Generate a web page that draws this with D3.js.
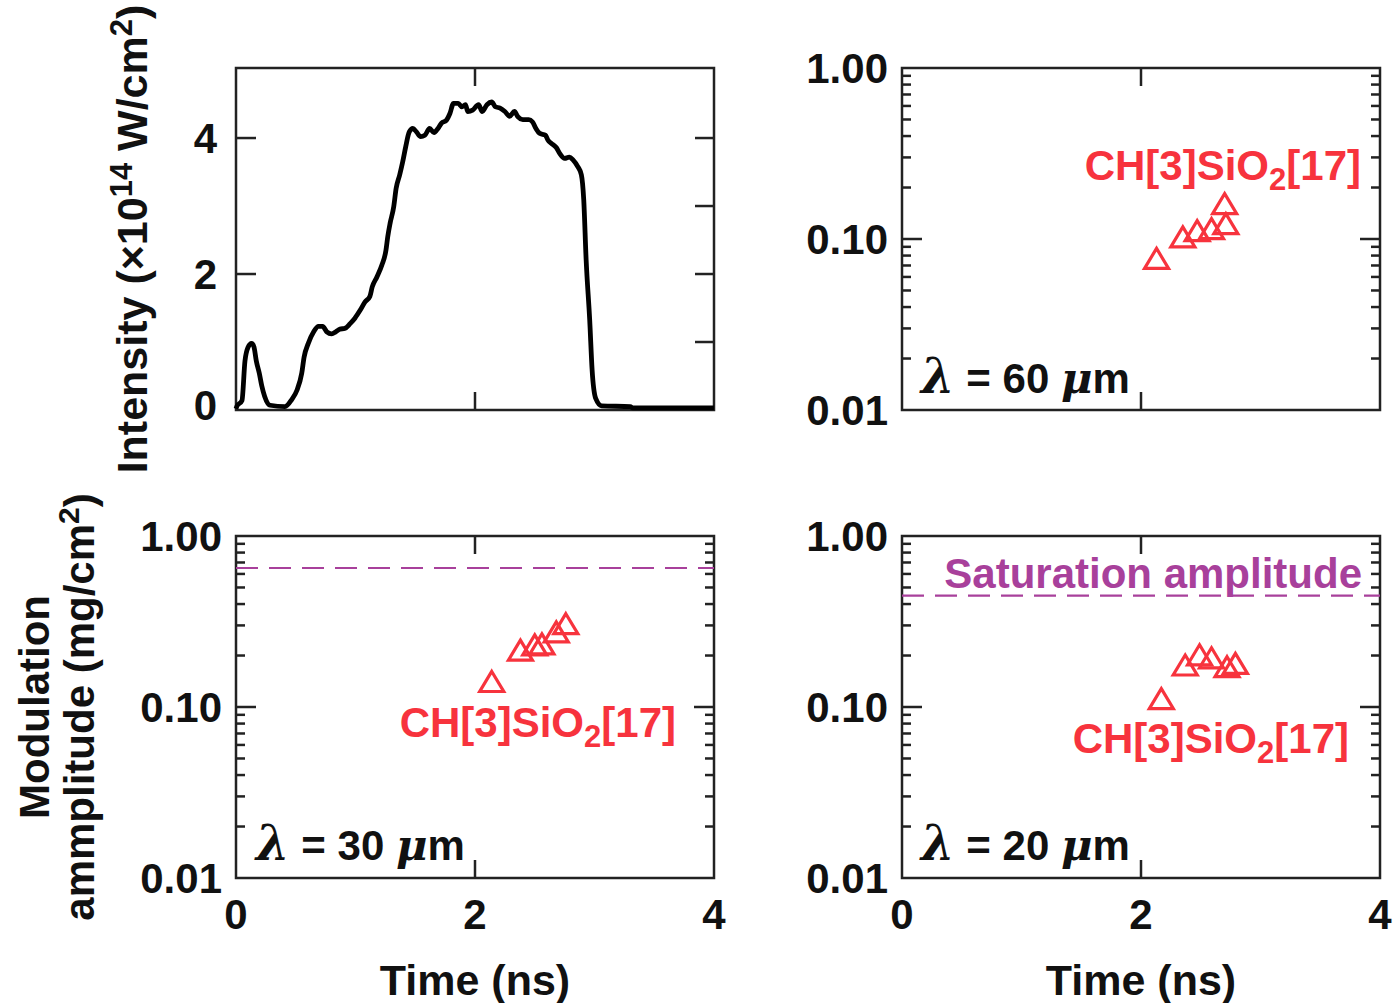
<!DOCTYPE html>
<html><head><meta charset="utf-8">
<script src="https://cdn.jsdelivr.net/npm/d3@7"></script>
<style>body{margin:0;background:#fff} svg{display:block}</style>
</head><body><svg id="c" width="1393" height="1003"></svg>
<script>
// ---- data ----
const pulseTime = [0.0,0.006,0.05,0.075,0.10,0.13,0.15,0.17,0.195,0.215,0.24,0.285,0.41,0.465,0.51,0.55,0.57,0.605,0.65,0.69,0.725,0.76,0.80,0.835,0.87,0.91,0.955,0.995,1.04,1.08,1.12,1.14,1.18,1.22,1.255,1.27,1.29,1.32,1.34,1.37,1.395,1.42,1.45,1.48,1.51,1.545,1.58,1.62,1.657,1.69,1.72,1.76,1.79,1.82,1.86,1.89,1.92,1.94,1.98,2.03,2.06,2.10,2.14,2.17,2.21,2.25,2.29,2.33,2.36,2.40,2.45,2.48,2.51,2.54,2.59,2.61,2.64,2.68,2.71,2.75,2.79,2.82,2.86,2.89,2.91,2.93,2.96,2.98,3.01,3.06,3.30,3.32,4.0];
const pulseIntensity = [0.02,0.05,0.14,0.72,0.92,0.98,0.93,0.72,0.54,0.36,0.2,0.07,0.05,0.15,0.29,0.54,0.78,0.98,1.15,1.23,1.23,1.15,1.12,1.15,1.19,1.20,1.27,1.35,1.47,1.59,1.67,1.81,1.96,2.13,2.35,2.55,2.75,2.99,3.26,3.46,3.65,3.87,4.09,4.14,4.09,4.02,4.04,4.14,4.08,4.14,4.22,4.26,4.36,4.51,4.51,4.46,4.49,4.39,4.41,4.49,4.39,4.49,4.53,4.46,4.44,4.39,4.32,4.39,4.31,4.27,4.27,4.24,4.14,4.07,4.04,3.97,3.92,3.86,3.77,3.70,3.72,3.68,3.58,3.46,3.09,2.21,1.32,0.59,0.17,0.06,0.05,0.03,0.03];

const time60 = [2.13, 2.35, 2.47, 2.59, 2.70, 2.71];
const amp60  = [0.077, 0.103, 0.112, 0.115, 0.161, 0.123];
const time30 = [2.14, 2.38, 2.50, 2.56, 2.68, 2.76];
const amp30  = [0.141, 0.215, 0.231, 0.234, 0.275, 0.307];
const time20 = [2.17, 2.37, 2.49, 2.59, 2.72, 2.79];
const amp20  = [0.112, 0.176, 0.202, 0.194, 0.172, 0.180];
const saturation30 = 0.65;
const saturation20 = 0.448;

const xTicks = [0, 2, 4];
const intensityTickLabels = [0, 2, 4];
const intensityTicksLeft = [2, 4];
const intensityTicksRight = [1, 2, 3, 4];
const logTicks = [0.01, 0.1, 1];
const logTickLabels = ["0.01", "0.10", "1.00"];

// ---- drawing ----
const svg = d3.select("#c");
const FONT = "'Liberation Sans', Arial, Helvetica, sans-serif";
const SERIF = "'DejaVu Serif', 'Liberation Serif', serif";
const FRAME = "#222";
const RED = "#f7333d";
const PURPLE = "#a8409b";
const FS = 42;

const panels = {
  tl: {x0: 236, x1: 714, y0: 68, y1: 410},
  tr: {x0: 902, x1: 1380, y0: 68, y1: 410},
  bl: {x0: 236, x1: 714, y0: 536, y1: 878},
  br: {x0: 902, x1: 1380, y0: 536, y1: 878}
};

function xScaleFor(p) { return d3.scaleLinear().domain([0, 4]).range([p.x0, p.x1]); }
function logScaleFor(p) { return d3.scaleLog().domain([0.01, 1]).range([p.y1, p.y0]); }

function tickLine(x1, y1, x2, y2) {
  svg.append("line").attr("x1", x1).attr("y1", y1).attr("x2", x2).attr("y2", y2)
    .attr("stroke", FRAME).attr("stroke-width", 2.5);
}

function frame(p) {
  svg.append("rect").attr("x", p.x0).attr("y", p.y0)
    .attr("width", p.x1 - p.x0).attr("height", p.y1 - p.y0)
    .attr("fill", "none").attr("stroke", FRAME).attr("stroke-width", 2.5);
}

function xAxisTicks(p, x, labels) {
  xTicks.forEach(t => {
    const px = x(t);
    if (t > 0 && t < 4) {
      tickLine(px, p.y1, px, p.y1 - 18);
      tickLine(px, p.y0, px, p.y0 + 18);
    }
    if (labels) {
      svg.append("text").attr("x", px).attr("y", p.y1 + 51)
        .attr("text-anchor", "middle").attr("font-family", FONT)
        .attr("font-weight", "bold").attr("font-size", FS).attr("fill", "#111")
        .text(t);
    }
  });
}

function logAxisTicks(p, y) {
  const minors = [];
  [0.01, 0.1].forEach(d => { for (let k = 2; k <= 9; k++) minors.push(d * k); });
  minors.forEach(v => {
    const py = y(v);
    tickLine(p.x0, py, p.x0 + 9, py);
    tickLine(p.x1, py, p.x1 - 9, py);
  });
  logTicks.forEach((v, i) => {
    const py = y(v);
    if (v > 0.01 && v < 1) {
      tickLine(p.x0, py, p.x0 + 20, py);
      tickLine(p.x1, py, p.x1 - 20, py);
    }
    svg.append("text").attr("x", p.x0 - 14).attr("y", py).attr("dy", "0.36em")
      .attr("text-anchor", "end").attr("font-family", FONT)
      .attr("font-weight", "bold").attr("font-size", FS).attr("fill", "#111")
      .text(logTickLabels[i]);
  });
}

function triangles(x, y, ts, vs) {
  const s = 24, h = 20;
  const path = `M0,${-h/2}L${s/2},${h/2}L${-s/2},${h/2}Z`;
  ts.forEach((t, i) => {
    svg.append("path").attr("d", path)
      .attr("transform", `translate(${x(t)},${y(vs[i])})`)
      .attr("fill", "none").attr("stroke", RED).attr("stroke-width", 3.2)
      .attr("stroke-linejoin", "miter");
  });
}

function chLabel(xEnd, yBase) {
  const t = svg.append("text").attr("x", xEnd).attr("y", yBase)
    .attr("text-anchor", "end").attr("font-family", FONT)
    .attr("font-weight", "bold").attr("font-size", FS).attr("fill", RED);
  t.append("tspan").text("CH[3]SiO");
  t.append("tspan").attr("font-size", 31).attr("dy", 10).text("2");
  t.append("tspan").attr("dy", -10).text("[17]");
}

function lambdaLabel(x0, yBase, val) {
  const t = svg.append("text").attr("x", x0).attr("y", yBase)
    .attr("font-family", FONT).attr("font-weight", "bold")
    .attr("font-size", FS).attr("fill", "#111");
  t.append("tspan").attr("font-family", SERIF)
    .attr("font-style", "italic").attr("font-size", 48).text("λ");
  t.append("tspan").text(" = " + val + " ");
  t.append("tspan").attr("font-family", SERIF)
    .attr("font-style", "italic").attr("font-size", 43).text("μ");
  t.append("tspan").text("m");
}

function satLine(p, y, v) {
  svg.append("line").attr("x1", p.x0).attr("x2", p.x1)
    .attr("y1", y(v)).attr("y2", y(v))
    .attr("stroke", PURPLE).attr("stroke-width", 2.2)
    .attr("stroke-dasharray", "22,11");
}

// Panel TL: pulse shape
{
  const p = panels.tl;
  const x = xScaleFor(p);
  const y = d3.scaleLinear().domain([0, 5.03]).range([p.y1, p.y0]);
  frame(p);
  intensityTicksLeft.forEach(v => tickLine(p.x0, y(v), p.x0 + 20, y(v)));
  intensityTicksRight.forEach(v => tickLine(p.x1, y(v), p.x1 - 19, y(v)));
  xAxisTicks(p, x, false);
  intensityTickLabels.forEach(v => {
    svg.append("text").attr("x", p.x0 - 19).attr("y", y(v) - (v === 0 ? 5 : 0)).attr("dy", "0.36em")
      .attr("text-anchor", "end").attr("font-family", FONT)
      .attr("font-weight", "bold").attr("font-size", FS).attr("fill", "#111").text(v);
  });
  const line = d3.line().x((d, i) => x(pulseTime[i])).y((d, i) => y(pulseIntensity[i]))
    .curve(d3.curveMonotoneX);
  svg.append("path").attr("d", line(pulseTime)).attr("fill", "none")
    .attr("stroke", "#000").attr("stroke-width", 4.8).attr("stroke-linejoin", "round");
  // y title
  const t = svg.append("text").attr("transform", `translate(147,${(p.y0 + p.y1) / 2}) rotate(-90)`)
    .attr("text-anchor", "middle").attr("font-family", FONT).attr("font-weight", "bold")
    .attr("font-size", 43).attr("fill", "#111");
  t.append("tspan").text("Intensity (×10");
  t.append("tspan").attr("font-size", 31).attr("dy", -15).text("14");
  t.append("tspan").attr("dy", 15).text(" W/cm");
  t.append("tspan").attr("font-size", 31).attr("dy", -15).text("2");
  t.append("tspan").attr("dy", 15).text(")");
}

// Panel TR: 60 um
{
  const p = panels.tr;
  const x = xScaleFor(p), y = logScaleFor(p);
  frame(p);
  logAxisTicks(p, y);
  xAxisTicks(p, x, false);
  triangles(x, y, time60, amp60);
  chLabel(1361, 180);
  lambdaLabel(921, 393, "60");
}

// Panel BL: 30 um
{
  const p = panels.bl;
  const x = xScaleFor(p), y = logScaleFor(p);
  frame(p);
  logAxisTicks(p, y);
  xAxisTicks(p, x, true);
  satLine(p, y, saturation30);
  triangles(x, y, time30, amp30);
  chLabel(676, 737);
  lambdaLabel(256, 860, "30");
}

// Panel BR: 20 um
{
  const p = panels.br;
  const x = xScaleFor(p), y = logScaleFor(p);
  frame(p);
  logAxisTicks(p, y);
  xAxisTicks(p, x, true);
  satLine(p, y, saturation20);
  triangles(x, y, time20, amp20);
  chLabel(1349, 753);
  lambdaLabel(921, 860, "20");
  svg.append("text").attr("x", 1362).attr("y", 588).attr("text-anchor", "end")
    .attr("font-family", FONT).attr("font-weight", "bold").attr("font-size", 42)
    .attr("fill", PURPLE).text("Saturation amplitude");
}

// X titles
[panels.bl, panels.br].forEach(p => {
  svg.append("text").attr("x", (p.x0 + p.x1) / 2).attr("y", 995).attr("text-anchor", "middle")
    .attr("font-family", FONT).attr("font-weight", "bold").attr("font-size", 43)
    .attr("fill", "#111").text("Time (ns)");
});

// Bottom y title (two lines)
{
  const cy = (panels.bl.y0 + panels.bl.y1) / 2;
  svg.append("text").attr("transform", `translate(49,${cy}) rotate(-90)`)
    .attr("text-anchor", "middle").attr("font-family", FONT).attr("font-weight", "bold")
    .attr("font-size", 42).attr("fill", "#111").text("Modulation");
  const t = svg.append("text").attr("transform", `translate(94,${cy}) rotate(-90)`)
    .attr("text-anchor", "middle").attr("font-family", FONT).attr("font-weight", "bold")
    .attr("font-size", 42).attr("fill", "#111");
  t.append("tspan").text("ammplitude (mg/cm");
  t.append("tspan").attr("font-size", 30).attr("dy", -15).text("2");
  t.append("tspan").attr("dy", 15).text(")");
}
</script>
</body></html>
